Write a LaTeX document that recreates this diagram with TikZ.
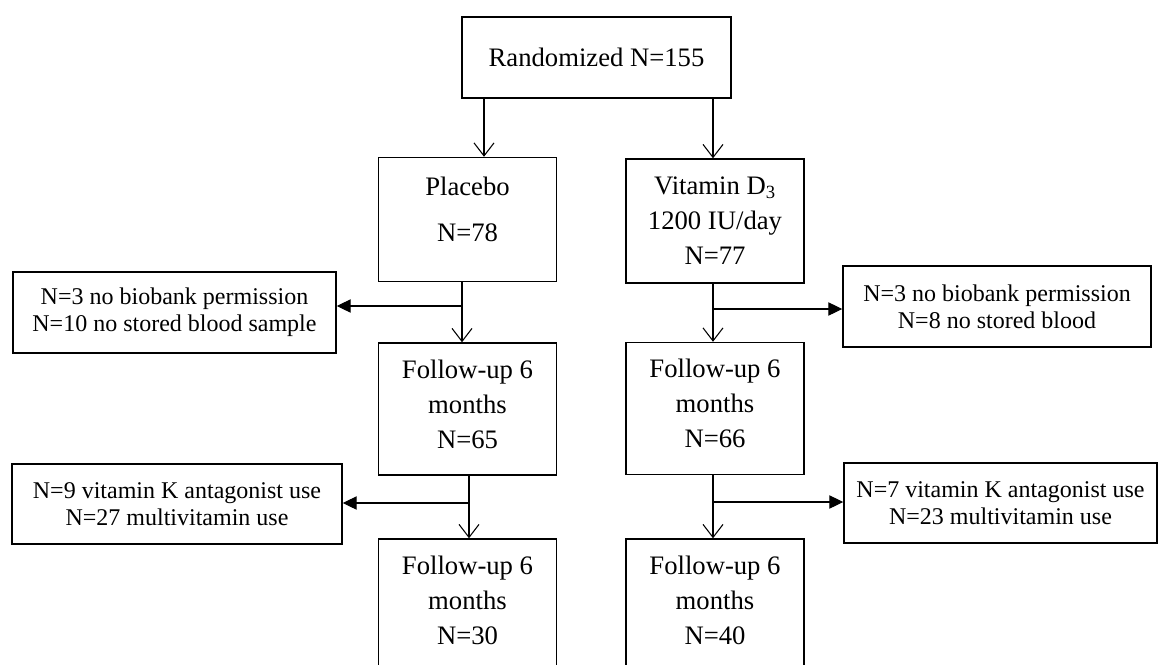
\documentclass[tikz,border=0pt]{standalone}
\usepackage{fontspec}
\setmainfont{Liberation Serif}
\usetikzlibrary{arrows.meta}

\begin{document}
\begin{tikzpicture}[x=0.75pt,y=-0.75pt]
\tikzset{
    flowbox/.style={draw, line width=1.1pt, inner sep=0pt, align=center,
        minimum width=133.5pt, minimum height=93pt,
        font=\fontsize{20}{26.25}\selectfont},
    exclbox/.style={flowbox, minimum height=60.75pt,
        font=\fontsize{18}{20.25}\selectfont},
    downarrow/.style={line width=0.8pt, -{Straight Barb[length=9.75pt,width=15pt]}},
    sidearrow/.style={line width=0.8pt, -{Triangle[length=10.5pt,width=10pt]}}
}
\useasboundingbox (0,0) rectangle (1159,664);
\clip (0,0) rectangle (1159,664);

% top and the two arms
\node[flowbox, minimum width=201.75pt, minimum height=60.75pt] (rand) at (596.5,57.5) {Randomized N=155};
\node[flowbox] (plac) at (467.5,219.5) {Placebo\\[8.25pt]N=78\\[-10.5pt]\mbox{}};
\node[flowbox] (vitd) at (715,221) {Vitamin D\textsubscript{3}\\1200 IU/day\\N=77};

% follow-up boxes
\foreach \nm/\xc/\yc/\nn in {fua/467.5/409/65, fub/715/408.5/66, fuc/467.5/605/30, fud/715/605/40}{
    \node[flowbox, minimum height=99pt] (\nm) at (\xc,\yc) {Follow-up 6\\months\\N=\nn\\[-18.75pt]\mbox{}};
}

% exclusions
\node[exclbox, minimum width=242.25pt] (exa) at (174.5,312.5) {N=3 no biobank permission\\N=10 no stored blood sample};
\node[exclbox, minimum width=231pt] (exb) at (997,306.5) {N=3 no biobank permission\\N=8 no stored blood};
\node[exclbox, minimum width=247.5pt, minimum height=60pt] (exc) at (177,504) {N=9 vitamin K antagonist use\\N=27 multivitamin use};
\node[exclbox, minimum width=234.75pt, minimum height=60pt] (exd) at (1000.5,503) {N=7 vitamin K antagonist use\\N=23 multivitamin use};

% arrows
\coordinate (s1) at (484,0);
\coordinate (s2) at (713,0);
\draw[downarrow] (s1 |- rand.south) -- (s1 |- plac.north);
\draw[downarrow] (s2 |- rand.south) -- (s2 |- vitd.north);

\foreach \b/\bx/\by/\up/\dn/\ex/\sd in {ba/462/306/plac/fua/exa/east, bb/713/309/vitd/fub/exb/west, bc/469/503/fua/fuc/exc/east, bd/713/502/fub/fud/exd/west}{
    \coordinate (\b) at (\bx,\by);
    \draw[downarrow] (\b |- \up.south) -- (\b |- \dn.north);
    \draw[sidearrow] (\b) -- (\b -| \ex.\sd);
}

\end{tikzpicture}
\end{document}
